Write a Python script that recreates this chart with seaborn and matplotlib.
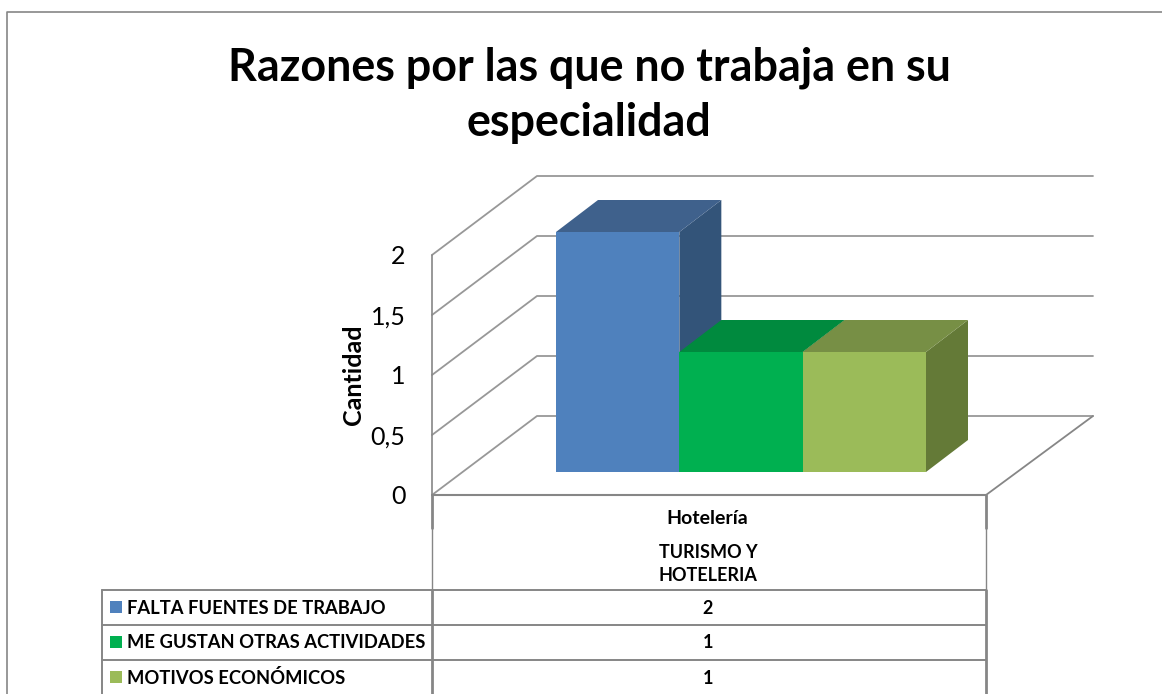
import matplotlib
matplotlib.use("Agg")
import matplotlib.pyplot as plt
import pandas as pd
import seaborn as sns
from matplotlib.patches import Polygon

titulo = "Razones por las que no trabaja en su\nespecialidad"
razones = ["FALTA FUENTES DE TRABAJO", "ME GUSTAN OTRAS ACTIVIDADES", "MOTIVOS ECONÓMICOS"]
cantidades = [2, 1, 1]
categoria = "Hotelería"
grupo = "TURISMO Y\nHOTELERIA"
ticks = [0, 0.5, 1, 1.5, 2]
tick_labels = ["0", "0,5", "1", "1,5", "2"]

colores = ["#4F81BD", "#00B050", "#9BBB59"]
colores_lado = ["#335479", "#006F34", "#647A37"]
colores_tope = ["#3F618C", "#008A3E", "#778F45"]
GRIS = "#868686"

W, H = 1162, 694

sns.set_theme(style="white")
plt.rcParams["font.family"] = ["Lato", "DejaVu Sans"]

fig = plt.figure(figsize=(W / 100, H / 100), dpi=100)


def caja(x0, y0, x1, y1):
    # pixel box (y from the top) to figure fractions
    return [x0 / W, 1 - y1 / H, (x1 - x0) / W, (y1 - y0) / H]


# overlay in pixels for frame, table and labels
lienzo = fig.add_axes([0, 0, 1, 1], zorder=0)
lienzo.set_xlim(0, W)
lienzo.set_ylim(H, 0)
lienzo.axis("off")

lienzo.plot([7, 7, W], [H, 12, 12], color=GRIS, lw=1.2)
lienzo.text(589, 95, titulo, ha="center", va="center", fontsize=32.3, fontweight="bold",
            color="black", linespacing=1.38)

# back wall and floor, in value units
pared = fig.add_axes(caja(432, 255, 986, 495), zorder=1)
pared.patch.set_alpha(0)
pared.set_xlim(0, 1)
pared.set_ylim(0, 2)
sns.despine(ax=pared, left=True, bottom=True, top=True, right=True)
fondo_x = 105 / 554
fondo_y = 79 / 120
fin_x = 1 + 107 / 554
for t in ticks:
    pared.plot([0, fondo_x, fin_x], [t, t + fondo_y, t + fondo_y], color=GRIS, lw=1.3,
               clip_on=False, alpha=0.85)
pared.plot([1, fin_x], [0, fondo_y], color=GRIS, lw=1.3, clip_on=False)
pared.plot([0, 1], [0, 0], color=GRIS, lw=1.5, clip_on=False)
pared.plot([0, 0], [0, 2], color=GRIS, lw=1.2, clip_on=False)
pared.set_xticks([])
pared.set_yticks(ticks)
pared.set_yticklabels(tick_labels, fontsize=18, color="black")
pared.tick_params(axis="y", length=0, pad=19)
pared.set_ylabel("Cantidad", fontsize=18, fontweight="bold", color="black", labelpad=4)

# bars
df = pd.DataFrame({"Categoria": [categoria] * 3, "Razon": razones, "Cantidad": cantidades})
ax = fig.add_axes(caja(556, 232, 926, 472), zorder=2)
ax.patch.set_alpha(0)
sns.barplot(data=df, x="Categoria", y="Cantidad", hue="Razon", hue_order=razones,
            palette=colores, width=1, gap=0, legend=False, saturation=1, linewidth=0, ax=ax)
ax.set_xlim(-0.5, 0.5)
ax.set_ylim(0, 2)
ax.axis("off")

prof_x = 42 / 370
prof_y = 32 / 120
for i, b in enumerate(ax.patches[:3]):
    x0, x1 = b.get_x(), b.get_x() + b.get_width()
    h = b.get_height()
    ax.add_patch(Polygon([(x1, 0), (x1 + prof_x, prof_y), (x1 + prof_x, h + prof_y), (x1, h)],
                         fc=colores_lado[i], ec="none", clip_on=False, zorder=2 + i))
    ax.add_patch(Polygon([(x0, h), (x0 + prof_x, h + prof_y), (x1 + prof_x, h + prof_y), (x1, h)],
                         fc=colores_tope[i], ec="none", clip_on=False, zorder=2 + i))
    b.set_zorder(2 + i + 0.5)

# data table below the plot
sep = 431
for y in [590, 625, 660]:
    lienzo.plot([102, 986], [y, y], color=GRIS, lw=1.4)
lienzo.plot([102, 102], [590, H], color=GRIS, lw=1.4)
lienzo.plot([sep + 1, sep + 1], [495, 528], color=GRIS, lw=2)
lienzo.plot([sep + 1, sep + 1], [528, 590], color=GRIS, lw=1)
lienzo.plot([sep + 1, sep + 1], [590, H], color=GRIS, lw=2)
lienzo.plot([986, 986], [495, 528], color=GRIS, lw=2)
lienzo.plot([986, 986], [528, 590], color=GRIS, lw=1)
lienzo.plot([986, 986], [590, H], color=GRIS, lw=2)

lienzo.text(707, 518, categoria, ha="center", va="center", fontsize=14, fontweight="bold", color="black")
lienzo.text(708, 564, grupo, ha="center", va="center", fontsize=13, fontweight="bold", color="black",
            linespacing=1.4)

filas_y = [608, 643, 678]
for razon, valor, color, y in zip(razones, cantidades, colores, filas_y):
    lienzo.scatter([116], [y - 1], marker="s", s=80, color=color, linewidths=0)
    lienzo.text(127, y, razon, ha="left", va="center", fontsize=13.2, fontweight="bold", color="black")
    lienzo.text(708, y, str(valor), ha="center", va="center", fontsize=13, fontweight="bold", color="black")

fig.savefig("out.png", dpi=100, facecolor="white")
